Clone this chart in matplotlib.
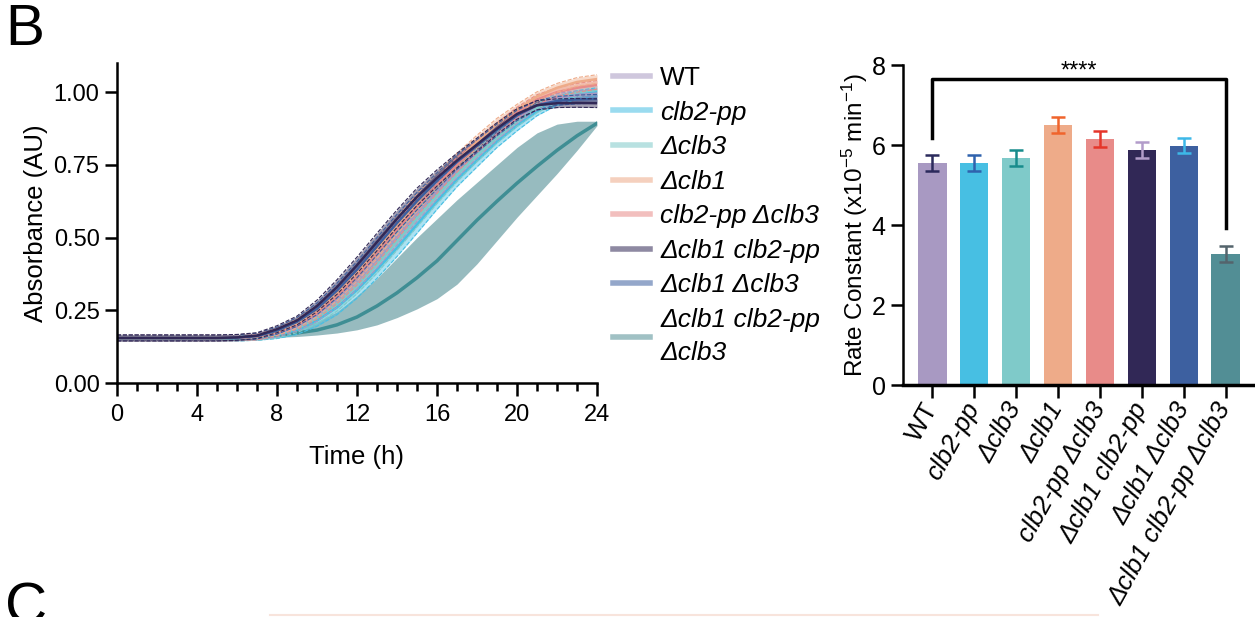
import numpy as np
import matplotlib
matplotlib.use("Agg")
import matplotlib.pyplot as plt
from matplotlib.lines import Line2D

plt.rcParams['font.family'] = ['Liberation Sans', 'DejaVu Sans']
plt.rcParams['mathtext.fontset'] = 'custom'
plt.rcParams['mathtext.rm'] = 'Liberation Sans'
plt.rcParams['mathtext.it'] = 'Liberation Sans:italic'

# --- datos ---
cepas = ['WT', 'clb2-pp', 'Δclb3', 'Δclb1', 'clb2-pp Δclb3',
         'Δclb1 clb2-pp', 'Δclb1 Δclb3', 'Δclb1 clb2-pp Δclb3']
etiquetas_leyenda = ['WT', 'clb2-pp', 'Δclb3', 'Δclb1', 'clb2-pp Δclb3',
                     'Δclb1 clb2-pp', 'Δclb1 Δclb3', 'Δclb1 clb2-pp\nΔclb3']
colores = ['#a899c2', '#47bfe3', '#7fcac9', '#eeab89', '#e88b89',
           '#312856', '#3d60a0', '#528e95']
colores_error = ['#2b2a5c', '#2f62ad', '#178c8c', '#f0642c', '#e5352a',
                 '#b29cca', '#3db8e8', '#54646c']

tiempo = [0, 1, 2, 3, 4, 5, 6, 7, 8, 9, 10, 11, 12, 13, 14, 15, 16, 17,
          18, 19, 20, 21, 22, 23, 24]

abs_wt = [0.155, 0.155, 0.155, 0.155, 0.155, 0.155, 0.155, 0.158, 0.170, 0.193,
          0.232, 0.285, 0.350, 0.425, 0.505, 0.585, 0.660, 0.730, 0.795, 0.855,
          0.910, 0.955, 0.980, 0.990, 0.995]
abs_clb2pp = [0.155, 0.155, 0.155, 0.155, 0.155, 0.155, 0.155, 0.157, 0.165, 0.182,
              0.215, 0.260, 0.320, 0.390, 0.465, 0.545, 0.625, 0.700, 0.765, 0.830,
              0.885, 0.935, 0.970, 0.990, 1.000]
abs_dclb3 = [0.155, 0.155, 0.155, 0.155, 0.155, 0.155, 0.155, 0.157, 0.167, 0.188,
             0.224, 0.272, 0.335, 0.408, 0.487, 0.567, 0.645, 0.717, 0.783, 0.845,
             0.900, 0.945, 0.980, 1.000, 1.008]
abs_dclb1 = [0.155, 0.155, 0.155, 0.155, 0.155, 0.155, 0.156, 0.160, 0.177, 0.205,
             0.248, 0.308, 0.378, 0.458, 0.540, 0.620, 0.695, 0.765, 0.830, 0.890,
             0.940, 0.985, 1.015, 1.035, 1.045]
abs_clb2pp_dclb3 = [0.155, 0.155, 0.155, 0.155, 0.155, 0.155, 0.156, 0.159, 0.175, 0.200,
                    0.240, 0.298, 0.365, 0.443, 0.525, 0.605, 0.680, 0.750, 0.815, 0.875,
                    0.930, 0.975, 1.000, 1.015, 1.025]
abs_dclb1_clb2pp = [0.155, 0.155, 0.155, 0.155, 0.155, 0.155, 0.157, 0.163, 0.185, 0.215,
                    0.265, 0.330, 0.405, 0.485, 0.565, 0.640, 0.705, 0.765, 0.820, 0.875,
                    0.925, 0.955, 0.962, 0.963, 0.962]
abs_dclb1_dclb3 = [0.155, 0.155, 0.155, 0.155, 0.155, 0.155, 0.156, 0.161, 0.180, 0.210,
                   0.255, 0.318, 0.390, 0.470, 0.550, 0.625, 0.695, 0.760, 0.815, 0.870,
                   0.920, 0.955, 0.970, 0.975, 0.977]
abs_triple = [0.155, 0.155, 0.155, 0.155, 0.155, 0.155, 0.155, 0.158, 0.165, 0.172,
              0.182, 0.200, 0.227, 0.265, 0.310, 0.362, 0.420, 0.490, 0.560, 0.625,
              0.687, 0.745, 0.800, 0.850, 0.893]

# bandas: desvio de las cepas principales y limites de la triple mutante
desvio_cepas = [0.010, 0.010, 0.010, 0.010, 0.010, 0.010, 0.010, 0.010, 0.012, 0.015,
                0.020, 0.025, 0.028, 0.030, 0.030, 0.030, 0.028, 0.025, 0.022, 0.020,
                0.018, 0.016, 0.015, 0.015, 0.015]
sup_triple = [0.163, 0.163, 0.163, 0.163, 0.163, 0.163, 0.163, 0.166, 0.175, 0.190,
              0.210, 0.245, 0.300, 0.360, 0.430, 0.500, 0.565, 0.630, 0.690, 0.750,
              0.810, 0.860, 0.890, 0.900, 0.900]
inf_triple = [0.147, 0.147, 0.147, 0.147, 0.147, 0.147, 0.147, 0.150, 0.157, 0.160,
              0.165, 0.172, 0.183, 0.200, 0.225, 0.255, 0.290, 0.340, 0.410, 0.490,
              0.570, 0.645, 0.720, 0.800, 0.885]

curvas = [abs_wt, abs_clb2pp, abs_dclb3, abs_dclb1, abs_clb2pp_dclb3,
          abs_dclb1_clb2pp, abs_dclb1_dclb3, abs_triple]

tasa = [5.55, 5.55, 5.68, 6.50, 6.15, 5.88, 5.98, 3.28]
error_tasa = [0.20, 0.20, 0.20, 0.20, 0.20, 0.20, 0.19, 0.20]

fig = plt.figure(figsize=(12.55, 6.17), dpi=100)

# --- curvas de crecimiento ---
ax1 = fig.add_axes([0.0932, 0.3792, 0.3825, 0.5186])
ax1.fill_between(tiempo, inf_triple, sup_triple, color=colores[7], alpha=0.6, lw=0)
ax1.plot(tiempo, abs_triple, color='#3f8e94', lw=2.5)
orden = [1, 2, 0, 4, 3, 6, 5]
for i in orden:
    m = np.array(curvas[i])
    s = np.array(desvio_cepas)
    ax1.fill_between(tiempo, m - s, m + s, color=colores[i], alpha=0.45, lw=0)
    ax1.plot(tiempo, m - s, color=colores[i], lw=0.8, ls='--')
    ax1.plot(tiempo, m + s, color=colores[i], lw=0.8, ls='--')
    ax1.plot(tiempo, m, color=colores[i], lw=1.8)

ax1.set_xlim(0, 24)
ax1.set_ylim(0, 1.10)
ax1.set_xticks([0, 4, 8, 12, 16, 20, 24])
ax1.set_xticks(range(0, 25), minor=True)
ax1.set_yticks([0, 0.25, 0.5, 0.75, 1.0])
ax1.set_yticklabels(['0.00', '0.25', '0.50', '0.75', '1.00'])
for lado in ['top', 'right']:
    ax1.spines[lado].set_visible(False)
for lado in ['left', 'bottom']:
    ax1.spines[lado].set_linewidth(1.8)
ax1.tick_params(axis='both', which='major', labelsize=17, width=1.8, length=9)
ax1.tick_params(axis='x', which='minor', width=1.8, length=6)
ax1.tick_params(axis='x', which='major', pad=6)
ax1.set_xlabel('Time (h)', fontsize=18.5, labelpad=14)
ax1.set_ylabel('Absorbance (AU)', fontsize=18.5, labelpad=4)

manijas = [Line2D([], [], color=c, lw=4, alpha=0.55) for c in colores]
leyenda = ax1.legend(manijas, etiquetas_leyenda, loc='upper left',
                     bbox_to_anchor=(1.0, 1.04), frameon=False, fontsize=19,
                     handlelength=1.4, handletextpad=0.4, labelspacing=0.4,
                     borderaxespad=0.2)
for j, t in enumerate(leyenda.get_texts()):
    t.set_linespacing(1.45)
    if j > 0:
        t.set_fontstyle('italic')

# --- tasas ---
ax2 = fig.add_axes([0.7195, 0.3760, 0.2805, 0.5186])
x = np.arange(len(cepas))
ax2.bar(x, tasa, width=0.68, color=colores)
for i in range(len(cepas)):
    ax2.errorbar(x[i], tasa[i], yerr=error_tasa[i], color=colores_error[i],
                 capsize=5, elinewidth=1.8, capthick=1.8)
ax2.set_xlim(-0.7, 7.7)
ax2.set_ylim(0, 8)
ax2.set_yticks([0, 2, 4, 6, 8])
ax2.set_xticks(x)
ax2.set_xticklabels(cepas, rotation=61, ha='right', va='center',
                    rotation_mode='anchor', fontsize=18.5)
for j, t in enumerate(ax2.get_xticklabels()):
    if j > 0:
        t.set_fontstyle('italic')
for lado in ['top', 'right']:
    ax2.spines[lado].set_visible(False)
ax2.spines['left'].set_linewidth(1.8)
ax2.spines['bottom'].set_linewidth(2.5)
ax2.tick_params(axis='y', labelsize=18, width=1.8, length=9)
ax2.tick_params(axis='x', width=1.8, length=9, pad=5)
ax2.set_ylabel(r'Rate Constant (x10$^{-5}$ min$^{-1}$)', fontsize=17.5, labelpad=1)

# corchete de significancia
ax2.plot([0, 0, 7, 7], [6.17, 7.64, 7.64, 3.92], color='black', lw=2.5,
         clip_on=False)
ax2.text(3.5, 7.68, '****', ha='center', va='baseline', fontsize=17)

# letras de panel
fig.text(0.004, 0.995, 'B', fontsize=42, va='top', ha='left')
fig.text(0.004, 0.058, 'C', fontsize=42, va='top', ha='left')
fig.add_artist(Line2D([0.215, 0.875], [0.004, 0.004], color='#f8e4dc', lw=1.5,
                      transform=fig.transFigure))

fig.savefig('out.png', dpi=100)
plt.close(fig)
